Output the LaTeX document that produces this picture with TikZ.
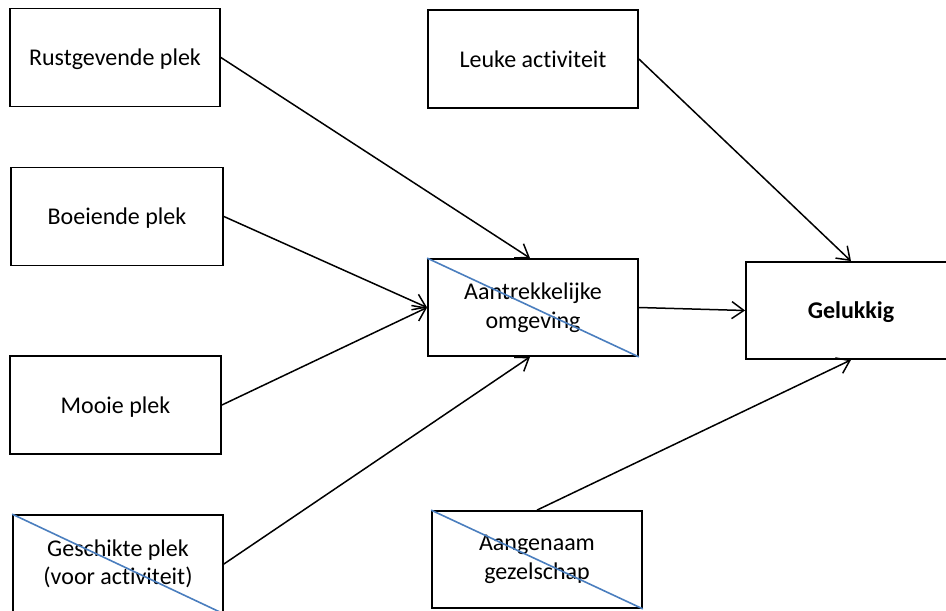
\documentclass[tikz,border=0pt]{standalone}
\usepackage{fontspec}
\setmainfont{Carlito}[Ligatures={NoCommon}]
\usetikzlibrary{arrows.meta}
\definecolor{crossblue}{RGB}{74,126,190}
\begin{document}
\begin{tikzpicture}[x=1pt,y=-1pt,
  box/.style={draw, line width=1.8pt, minimum width=210pt, minimum height=98pt,
    inner sep=0pt, align=center, font=\fontsize{24}{28.5}\selectfont},
  oneline/.style={text depth=0pt},
  conn/.style={line width=1.5pt, -{Straight Barb[length=12pt,width=17pt,line width=1.5pt]}},
  cross/.style={crossblue, line width=1.6pt}]
\useasboundingbox (0,0) rectangle (946,611);
\clip (0,0) rectangle (946,611);
\node[box, oneline] (rust) at (115,57.5) {Rustgevende plek};
\node[box, oneline, minimum width=212pt] (boei) at (117,216.5) {Boeiende plek};
\node[box, oneline, minimum width=211pt] (mooi) at (115.5,405) {Mooie plek};
\node[box] (gesch) at (118,564) {Geschikte plek\\(voor activiteit)};
\node[box, oneline] (leuk) at (533,59) {Leuke activiteit};
\node[box, minimum height=97pt] (aan) at (533,307.5) {Aantrekkelijke\\omgeving};
\node[box, oneline, minimum height=97pt, font=\fontsize{24}{28.5}\selectfont\bfseries] (gel) at (851,310.5) {Gelukkig};
\node[box, minimum height=97pt] (aang) at (537,559.5) {Aangenaam\\gezelschap};
\draw[cross] (aan.north west) -- (aan.south east);
\draw[cross] (gesch.north west) -- (gesch.south east);
\draw[cross] (aang.north west) -- (aang.south east);
\draw[conn] (rust.east) -- ([xshift=-3pt]aan.north);
\draw[conn] (boei.east) -- (aan.west);
\draw[conn] (mooi.east) -- (aan.west);
\draw[conn] (gesch.east) -- ([xshift=-3pt]aan.south);
\draw[conn] (aan.east) -- (gel.west);
\draw[conn] (leuk.east) -- (gel.north);
\draw[conn] (aang.north) -- (gel.south);
\end{tikzpicture}
\end{document}
